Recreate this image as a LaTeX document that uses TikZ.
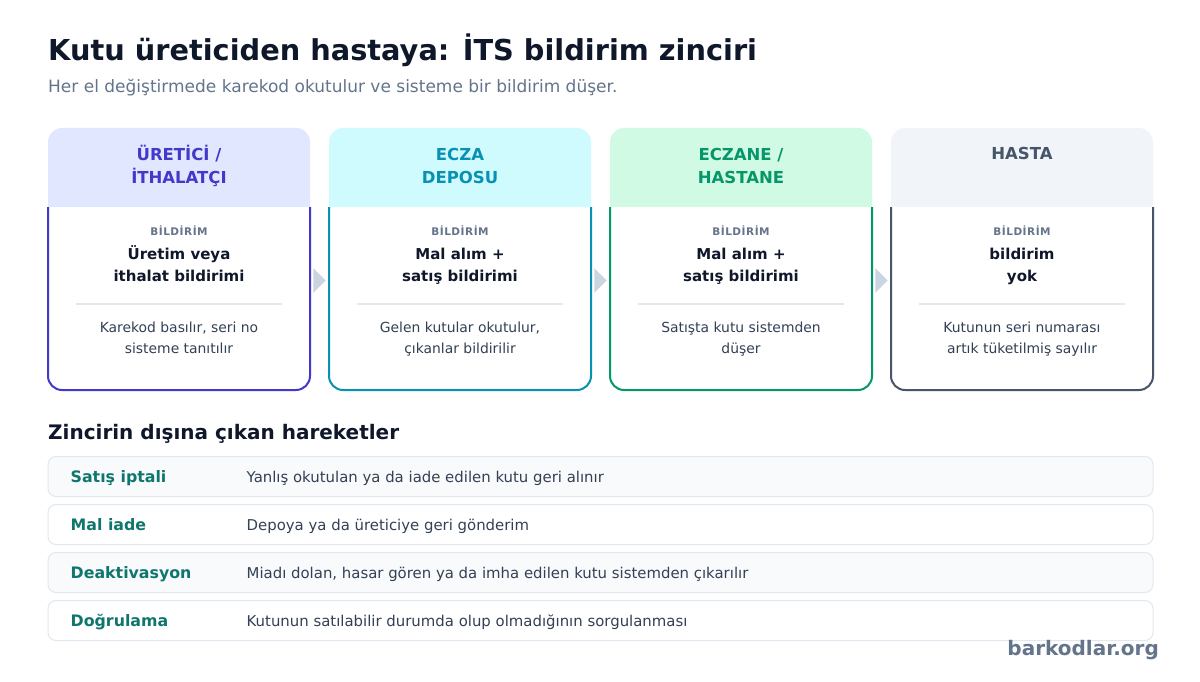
\documentclass[tikz,border=0pt]{standalone}
\usepackage{fontspec}
\setmainfont{DejaVu Sans}
\newfontfamily\spaced[LetterSpace=5]{DejaVu Sans}
\definecolor{ink}{HTML}{0F172A}
\definecolor{slate}{HTML}{64748B}
\definecolor{body}{HTML}{334155}
\definecolor{rule}{HTML}{E2E8F0}
\definecolor{rowfill}{HTML}{F8FAFC}
\definecolor{teal}{HTML}{0F766E}
\definecolor{arrowc}{HTML}{CBD5E1}
\definecolor{cA}{HTML}{4338CA}\definecolor{fA}{HTML}{E0E7FF}
\definecolor{cB}{HTML}{0891B2}\definecolor{fB}{HTML}{CFFAFE}
\definecolor{cC}{HTML}{059669}\definecolor{fC}{HTML}{D1FAE5}
\definecolor{cD}{HTML}{475569}\definecolor{fD}{HTML}{F1F5F9}
\tikzset{
  headtxt/.style={anchor=base,align=center,font=\fontsize{16.5}{24}\selectfont\bfseries,inner sep=0pt},
  tagtxt/.style={anchor=base,inner sep=0pt,text=slate,font=\fontsize{10.5}{12}\selectfont\bfseries\spaced},
  maintxt/.style={anchor=base,align=center,inner sep=0pt,text=ink,font=\fontsize{15}{22.5}\selectfont\bfseries},
  desctxt/.style={anchor=base,align=center,inner sep=0pt,text=body,font=\fontsize{13.9}{20.5}\selectfont},
  rowbox/.style={draw=rule,line width=1pt,rounded corners=8},
  rowlab/.style={anchor=base west,inner sep=0pt,text=teal,font=\fontsize{15.8}{18}\selectfont\bfseries},
  rowdesc/.style={anchor=base west,inner sep=0pt,text=body,font=\fontsize{14.9}{18}\selectfont},
}
\newcommand{\card}[8]{% #1 x-left, #2 border col, #3 fill col, #4 head, #5 main, #6 desc, #7 name, #8 head baseline
  \fill[#3,rounded corners=14] (#1,128) rectangle ++(262,93);
  \fill[white] (#1,207) rectangle ++(262,20);
  \draw[#2,line width=2pt,rounded corners=14] (#1,207) -- (#1,390) -- (#1+262,390) -- (#1+262,207);
  \node[headtxt,text=#2] (#7h) at (#1+131,#8) {#4};
  \node[tagtxt] (#7t) at (#1+131,235) {BİLDİRİM};
  \node[maintxt] (#7m) at (#1+131,281.7) {#5};
  \draw[rule,line width=2pt] (#1+28,304.3) -- (#1+234,304.3);
  \node[desctxt] (#7d) at (#1+131,353.3) {#6};
}
\begin{document}
\begin{tikzpicture}[x=1pt,y=-1pt]
\useasboundingbox[fill=white] (0,0) rectangle (1200,682);
\node[anchor=base west,inner sep=0pt,text=ink,font=\fontsize{28.8}{34}\selectfont\bfseries] (title) at (48,61) {Kutu üreticiden hastaya: İTS bildirim zinciri};
\node[anchor=base west,inner sep=0pt,text=slate,font=\fontsize{17}{20}\selectfont] (sub) at (48,92.7) {Her el değiştirmede karekod okutulur ve sisteme bir bildirim düşer.};

\card{48}{cA}{fA}{ÜRETİCİ /\\İTHALATÇI}{Üretim veya\\ithalat bildirimi}{Karekod basılır, seri no\\sisteme tanıtılır}{a}{184}
\card{329}{cB}{fB}{ECZA\\DEPOSU}{Mal alım +\\satış bildirimi}{Gelen kutular okutulur,\\çıkanlar bildirilir}{b}{184}
\card{610}{cC}{fC}{ECZANE /\\HASTANE}{Mal alım +\\satış bildirimi}{Satışta kutu sistemden\\düşer}{c}{184}
\card{891}{cD}{fD}{HASTA}{bildirim\\yok}{Kutunun seri numarası\\artık tüketilmiş sayılır}{d}{160}

\foreach \x in {313.3,594.3,875.3}{
  \fill[arrowc] (\x,268.3) -- (\x+12.4,280.5) -- (\x,292.7) -- cycle;
}

\node[anchor=base west,inner sep=0pt,text=ink,font=\fontsize{20}{22}\selectfont\bfseries] (sec) at (48,439) {Zincirin dışına çıkan hareketler};

\draw[rowbox,fill=rowfill] (48,456.5) rectangle (1153,496.5);
\draw[rowbox,fill=white] (48,504.5) rectangle (1153,544.5);
\draw[rowbox,fill=rowfill] (48,552.5) rectangle (1153,592.5);
\draw[rowbox,fill=white] (48,600.5) rectangle (1153,640.5);

\node[rowlab] (l1) at (70.5,482.3) {Satış iptali};
\node[rowdesc] (d1) at (246.5,482.3) {Yanlış okutulan ya da iade edilen kutu geri alınır};
\node[rowlab] (l2) at (70.5,530.3) {Mal iade};
\node[rowdesc] (d2) at (246.5,530.3) {Depoya ya da üreticiye geri gönderim};
\node[rowlab] (l3) at (70.5,578.3) {Deaktivasyon};
\node[rowdesc] (d3) at (246.5,578.3) {Miadı dolan, hasar gören ya da imha edilen kutu sistemden çıkarılır};
\node[rowlab] (l4) at (70.5,626.3) {Doğrulama};
\node[rowdesc] (d4) at (246.5,626.3) {Kutunun satılabilir durumda olup olmadığının sorgulanması};

\node[anchor=base east,inner sep=0pt,text=slate,font=\fontsize{20}{22}\selectfont\bfseries] (foot) at (1159,655.7) {barkodlar.org};
\end{tikzpicture}
\end{document}
